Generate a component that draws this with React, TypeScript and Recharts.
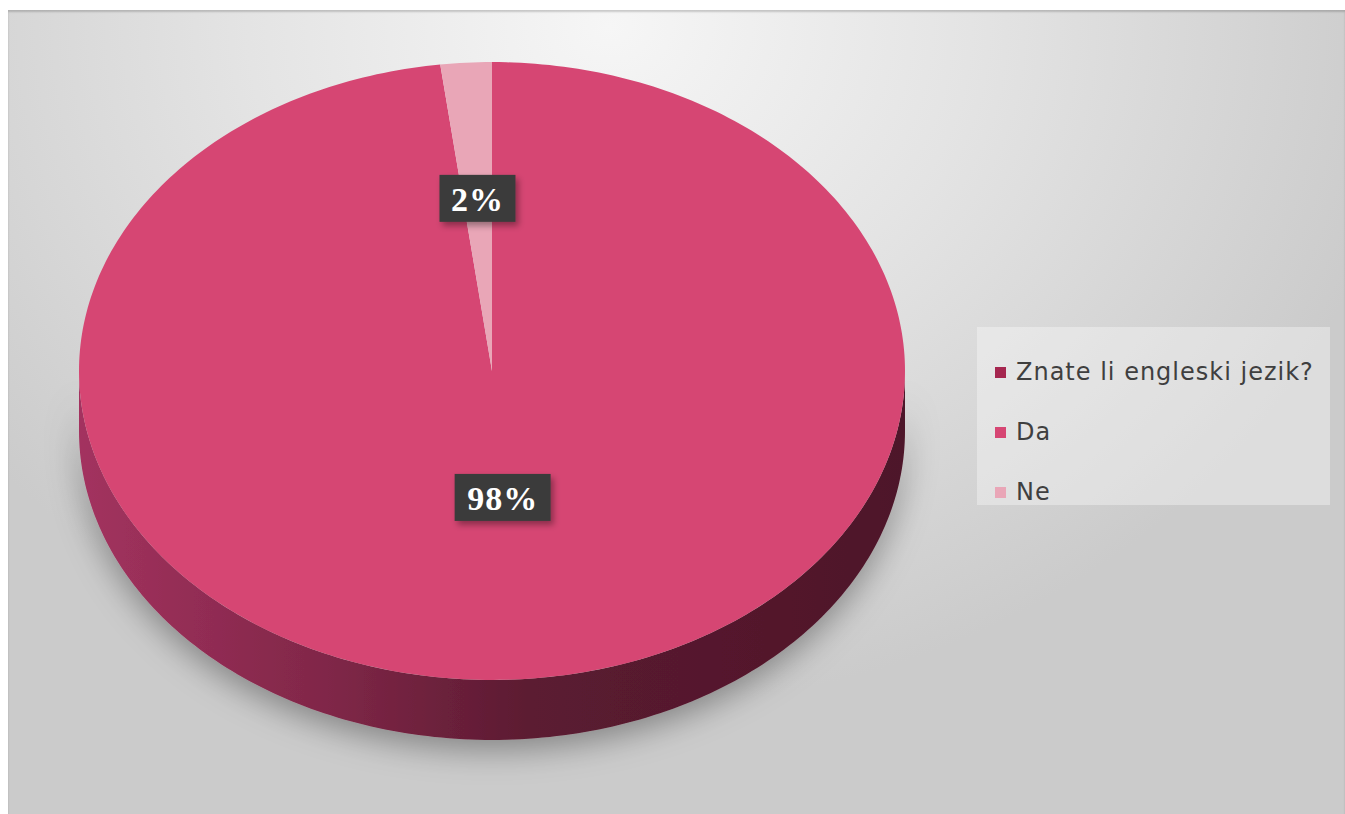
import React from 'react';
import { PieChart, Pie, Cell, Legend } from 'recharts';

// survey answers
const categories = ['Znate li engleski jezik?', 'Da', 'Ne'];
const shares = [0, 98, 2];
const sliceColors = ['#a5264f', '#d64673', '#e9a6b7'];

const data = categories.map((name, i) => ({ name, value: shares[i] }));

const W = 1337;
const H = 804;
const TILT = 0.748; // vertical squash of the pie top
const DEPTH = 60; // thickness of the 3d wall

const ellipsePoint = (cx: number, cy: number, r: number, a: number) => {
  const rad = (a * Math.PI) / 180;
  return [cx + r * Math.cos(rad), cy - TILT * r * Math.sin(rad)];
};

const arcPoints = (cx: number, cy: number, r: number, a1: number, a2: number, dy = 0) => {
  const n = Math.max(2, Math.ceil(Math.abs(a2 - a1)));
  const pts: string[] = [];
  for (let i = 0; i <= n; i++) {
    const a = a1 + ((a2 - a1) * i) / n;
    const [x, y] = ellipsePoint(cx, cy, r, a);
    pts.push(`${x.toFixed(2)},${(y + dy).toFixed(2)}`);
  }
  return pts;
};

const SliceShape = (props: any) => {
  const { cx, cy, outerRadius, startAngle, endAngle, fill, value } = props;
  if (!value) return <g />;
  const top = `M${cx},${cy} L${arcPoints(cx, cy, outerRadius, startAngle, endAngle).join(' L')} Z`;
  const lo = Math.min(startAngle, endAngle);
  const hi = Math.max(startAngle, endAngle);
  const walls: string[] = [];
  // front half of the rim is where sin(angle) < 0
  for (let k = -2; k <= 1; k++) {
    const a1 = Math.max(lo, -180 + 360 * k);
    const a2 = Math.min(hi, 360 * k);
    if (a2 - a1 > 0.01) {
      const upper = arcPoints(cx, cy, outerRadius, a1, a2);
      const lower = arcPoints(cx, cy, outerRadius, a2, a1, DEPTH);
      walls.push(`M${upper.join(' L')} L${lower.join(' L')} Z`);
    }
  }
  return (
    <g>
      {walls.map((d, i) => (
        <path key={i} d={d} fill="url(#pieWall)" filter="url(#pieShadow)" />
      ))}
      <path d={top} fill={fill} stroke="none" />
    </g>
  );
};

const renderLabel = (props: any) => {
  const { cx, cy, midAngle, outerRadius, percent, value } = props;
  if (!value) return null;
  const k = percent > 0.5 ? 0.41 : 0.56;
  const [x, y] = ellipsePoint(cx, cy, outerRadius * k, midAngle);
  const text = `${Math.round(percent * 100)}%`;
  const w = 20 * text.length + 36;
  const h = 47;
  return (
    <g>
      <rect x={x - w / 2} y={y - h / 2} width={w} height={h} fill="#3b3b3b" filter="url(#boxShadow)" />
      <text
        x={x}
        y={y + 1}
        textAnchor="middle"
        dominantBaseline="central"
        fill="#ffffff"
        fontFamily="'Liberation Serif', 'DejaVu Serif', serif"
        fontWeight="bold"
        fontSize={34}
        letterSpacing={1}
      >
        {text}
      </text>
    </g>
  );
};

const LegendBox = (props: any) => {
  const items = [...(props.payload || [])].sort(
    (a: any, b: any) => categories.indexOf(a.value) - categories.indexOf(b.value)
  );
  return (
    <div
      style={{
        width: 353,
        height: 178,
        boxSizing: 'border-box',
        background: 'rgba(255,255,255,0.35)',
        padding: '15px 0 0 18px',
        fontFamily: "'DejaVu Sans', sans-serif",
        fontSize: 24,
        letterSpacing: 1,
        color: '#3f3f3f',
      }}
    >
      {items.map((entry: any, i: number) => (
        <div key={i} style={{ display: 'flex', alignItems: 'center', height: 60 }}>
          <span
            style={{
              display: 'inline-block',
              width: 11,
              height: 11,
              background: entry.color,
              marginRight: 10,
            }}
          />
          <span>{entry.value}</span>
        </div>
      ))}
    </div>
  );
};

export default function App() {
  return (
    <div style={{ position: 'absolute', left: 0, top: 0, width: 1345, height: 814, background: '#ffffff' }}>
      <svg width={0} height={0} style={{ position: 'absolute' }}>
        <defs>
          <linearGradient id="pieWall" x1="0" y1="0" x2="1" y2="0">
            <stop offset="0" stopColor="#a3325f" />
            <stop offset="0.3" stopColor="#802748" />
            <stop offset="0.55" stopColor="#5b1b31" />
            <stop offset="1" stopColor="#4e1629" />
          </linearGradient>
          <filter id="pieShadow" x="-20%" y="-60%" width="140%" height="240%">
            <feDropShadow dx="0" dy="10" stdDeviation="16" floodColor="#000" floodOpacity="0.35" />
          </filter>
          <filter id="boxShadow" x="-30%" y="-30%" width="160%" height="180%">
            <feDropShadow dx="3" dy="4" stdDeviation="3" floodColor="#000" floodOpacity="0.35" />
          </filter>
        </defs>
      </svg>
      <div
        style={{
          position: 'absolute',
          left: 8,
          top: 10,
          width: W,
          height: H,
          background:
            'radial-gradient(ellipse 60% 85% at 45% 2%, #f6f6f6 0%, #e4e4e4 45%, #cbcbcb 100%)',
          boxShadow: 'inset 0 2px 2px rgba(0,0,0,0.18)',
        }}
      >
        <PieChart width={W} height={H} margin={{ top: 0, right: 0, bottom: 0, left: 0 }}>
          <Pie
            data={data}
            dataKey="value"
            nameKey="name"
            cx={484}
            cy={361}
            outerRadius={413}
            startAngle={90}
            endAngle={-270}
            stroke="none"
            shape={SliceShape}
            activeShape={SliceShape}
            inactiveShape={SliceShape}
            label={renderLabel}
            labelLine={false}
            isAnimationActive={false}
          >
            {data.map((entry, i) => (
              <Cell key={entry.name} fill={sliceColors[i]} />
            ))}
          </Pie>
          <Legend
            layout="vertical"
            align="right"
            verticalAlign="top"
            wrapperStyle={{ left: 969, top: 317, width: 353, right: 'auto' }}
            content={LegendBox}
          />
        </PieChart>
      </div>
    </div>
  );
}
